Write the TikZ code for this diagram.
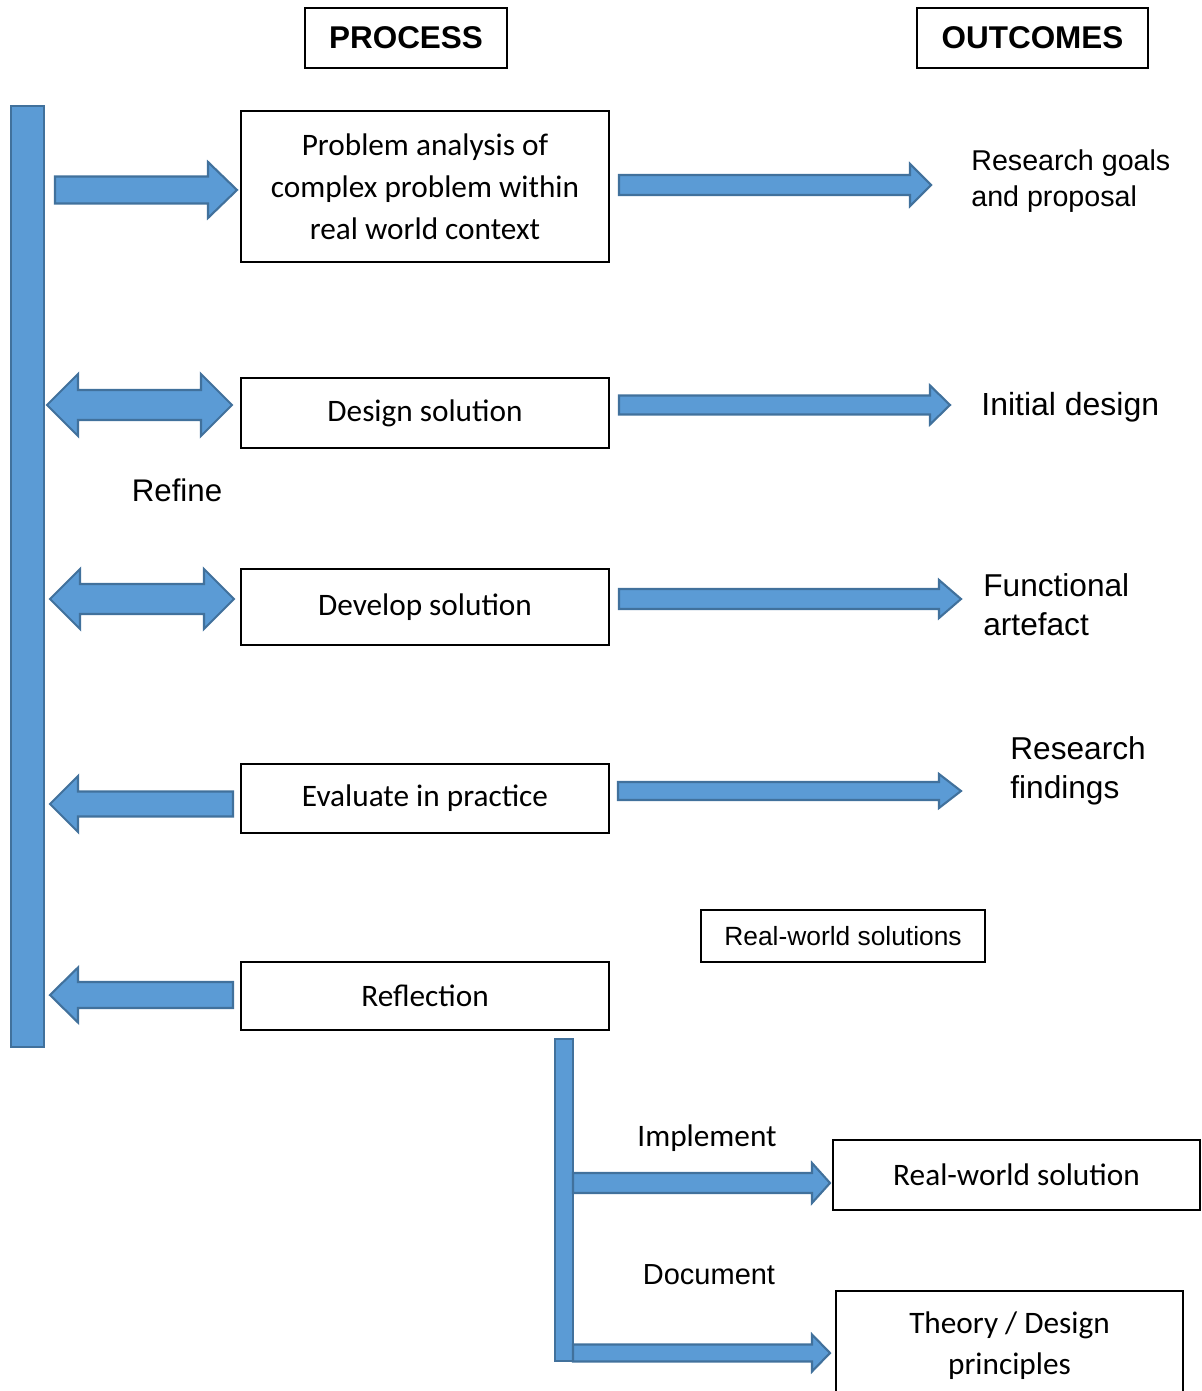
\documentclass[tikz,border=0pt]{standalone}
\usepackage{fontspec}
\setmainfont{Carlito}
\newfontfamily\arialfont{Liberation Sans}
\definecolor{blockfill}{HTML}{5B9BD5}
\definecolor{blockedge}{HTML}{41719C}

% Block arrows, all lengths in pixel units of the picture grid
% #1 tail x, #2 tip x, #3 centre y, #4 shaft half width, #5 head half width, #6 head length
\newcommand{\rightblock}[6]{%
  \draw[blockshape] (#1,#3-#4) -- (#2-#6,#3-#4) -- (#2-#6,#3-#5) -- (#2,#3)
    -- (#2-#6,#3+#5) -- (#2-#6,#3+#4) -- (#1,#3+#4) -- cycle;}
% #1 tip x, #2 tail x
\newcommand{\leftblock}[6]{%
  \draw[blockshape] (#2,#3-#4) -- (#1+#6,#3-#4) -- (#1+#6,#3-#5) -- (#1,#3)
    -- (#1+#6,#3+#5) -- (#1+#6,#3+#4) -- (#2,#3+#4) -- cycle;}
% #1 left tip x, #2 right tip x
\newcommand{\bothblock}[6]{%
  \draw[blockshape] (#1,#3) -- (#1+#6,#3-#5) -- (#1+#6,#3-#4) -- (#2-#6,#3-#4)
    -- (#2-#6,#3-#5) -- (#2,#3) -- (#2-#6,#3+#5) -- (#2-#6,#3+#4)
    -- (#1+#6,#3+#4) -- (#1+#6,#3+#5) -- cycle;}

\tikzset{
  blockshape/.style={fill=blockfill, draw=blockedge, line width=1.2pt, line join=miter},
  header/.style={draw, line width=0.8pt, inner sep=0pt, font=\arialfont\bfseries\fontsize{17.9}{20}\selectfont},
  stepbox/.style={draw, line width=0.8pt, inner sep=0pt, align=center,
    minimum width=7.36cm, font=\fontsize{17.8}{23.8}\selectfont},
  outbox/.style={draw, line width=0.8pt, inner sep=0pt, align=center,
    font=\fontsize{17.8}{23.4}\selectfont},
  outcome/.style={anchor=west, inner sep=0pt, align=left},
  label/.style={inner sep=0pt},
}

\begin{document}
\begin{tikzpicture}[x=0.02cm, y=-0.02cm]
\useasboundingbox (0,0) rectangle (1201,1391);
\begin{scope}
\clip (0,0) rectangle (1201,1391);

% column headers
\node[header, minimum width=4.04cm, minimum height=1.2cm] (process) at (406,38) {PROCESS};
\node[header, minimum width=4.62cm, minimum height=1.2cm] (outcomes) at (1032.5,38) {OUTCOMES};

% process steps
\node[stepbox, minimum height=3.02cm] (analysis) at (425,186.5)
  {Problem analysis of\\complex problem within\\real world context};
\node[stepbox, minimum height=1.4cm] (design) at (425,413) {Design solution};
\node[stepbox, minimum height=1.52cm] (develop) at (425,607) {Develop solution};
\node[stepbox, minimum height=1.38cm] (evaluate) at (425,798.5) {Evaluate in practice};
\node[stepbox, minimum height=1.36cm] (reflection) at (425,996) {Reflection};

% outcomes
\node[outcome, font=\arialfont\fontsize{16.3}{20.4}\selectfont] (goals) at (971,181)
  {Research goals\\and proposal};
\node[outcome, font=\arialfont\fontsize{18.2}{22}\selectfont] (initial) at (981,407) {Initial design};
\node[outcome, font=\arialfont\fontsize{18}{22}\selectfont] (artefact) at (983,605)
  {Functional\\artefact};
\node[outcome, font=\arialfont\fontsize{18}{22}\selectfont] (findings) at (1010,771)
  {Research\\findings};
\node[draw, line width=0.8pt, inner sep=0pt, minimum width=5.68cm, minimum height=1.04cm,
  font=\arialfont\fontsize{15}{18}\selectfont] (rwsolutions) at (843,936) {Real-world solutions};

% labels on the left bar and the reflection branch
\node[label, font=\arialfont\fontsize{17.8}{20}\selectfont] (refine) at (177,490) {Refine};
\node[label, font=\fontsize{17.8}{20}\selectfont] (implement) at (707,1138) {Implement};
\node[label, font=\arialfont\fontsize{16.5}{20}\selectfont] (document) at (709,1275) {Document};

% results of reflection
\node[outbox, minimum width=7.34cm, minimum height=1.4cm] (rwsolution) at (1016.5,1175)
  {Real-world solution};
\node[outbox, minimum width=6.94cm, minimum height=2.18cm] (theory) at (1009.5,1345.5)
  {Theory / Design\\principles};

% iteration bar on the left
\draw[blockshape] (11,106) rectangle (44,1047);
% reflection branch bar
\draw[blockshape] (555,1039) rectangle (573,1361);

% arrows between the bar and the steps
\rightblock{55}{237}{190}{13.5}{28}{29}
\bothblock{47}{232}{405}{15}{31}{31}
\bothblock{50}{234}{599}{15}{30}{30}
\leftblock{50}{233}{804}{12.5}{28}{28}
\leftblock{50}{233}{995}{13}{27.5}{28}

% arrows from the steps to their outcomes
\rightblock{619}{931}{185}{10}{21}{21}
\rightblock{619}{950}{405}{9.5}{19.5}{20}
\rightblock{619}{961}{599}{10}{19}{22}
\rightblock{618}{961}{791}{9}{17}{22}

% arrows of the reflection branch
\rightblock{573}{830}{1183}{10}{20}{18}
\rightblock{573}{830}{1353}{8.5}{18.5}{18}
\end{scope}
\end{tikzpicture}
\end{document}
